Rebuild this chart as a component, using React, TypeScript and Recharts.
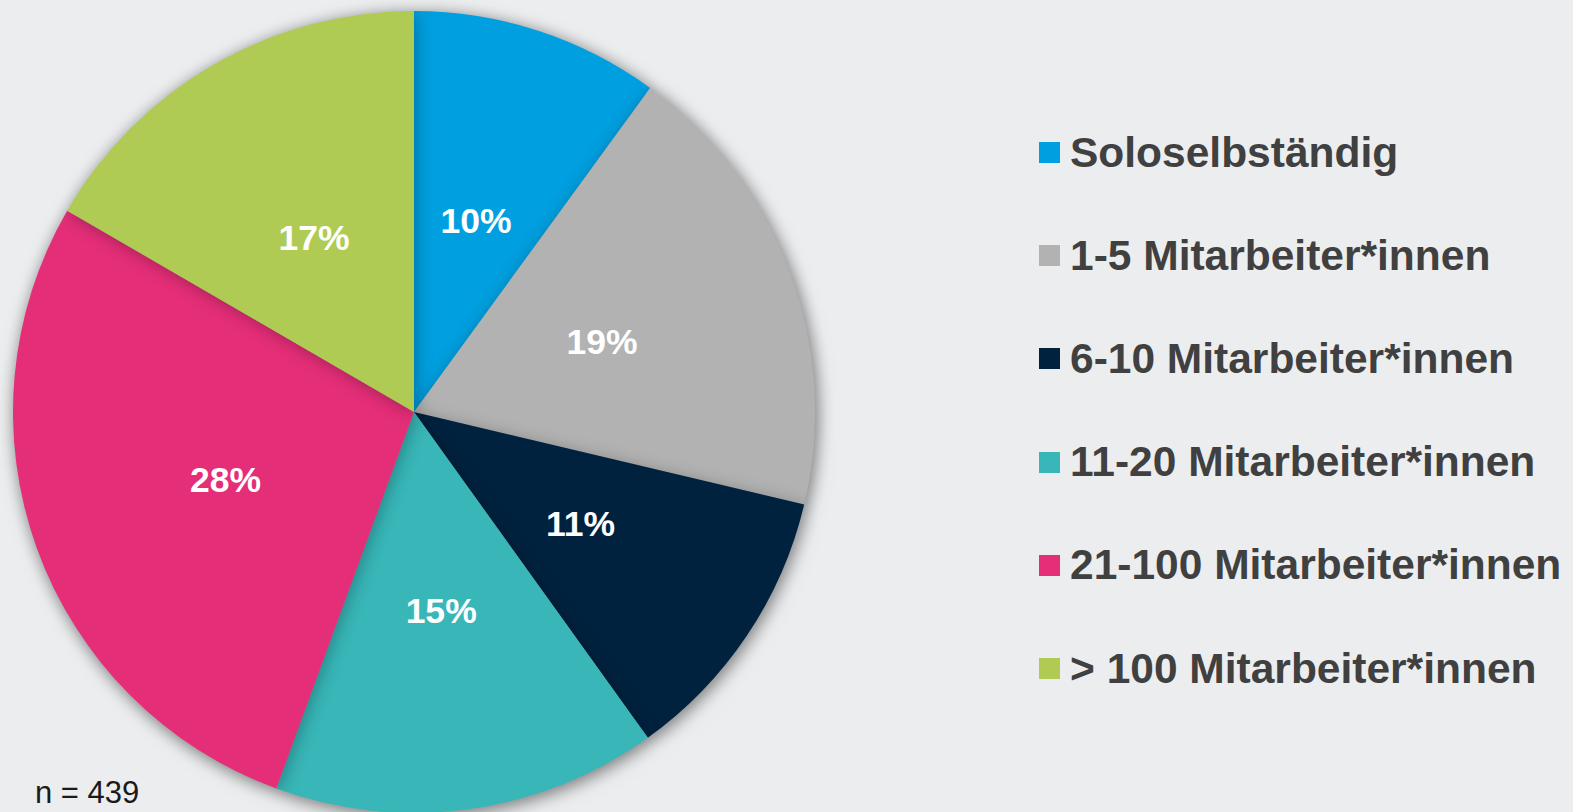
import React from 'react';
import { PieChart, Pie, Cell, Legend } from 'recharts';

// Respondents per company size (n = 439)
const categories = [
  'Soloselbständig',
  '1-5 Mitarbeiter*innen',
  '6-10 Mitarbeiter*innen',
  '11-20 Mitarbeiter*innen',
  '21-100 Mitarbeiter*innen',
  '> 100 Mitarbeiter*innen',
];
const counts = [44, 82, 50, 68, 122, 73];
const colors = ['#009FDF', '#B2B2B2', '#00223F', '#38B6B8', '#E52E78', '#B0CB53'];
const total = 439;

const data = categories.map((name, i) => ({ name, value: counts[i] }));

const RADIAN = Math.PI / 180;

const renderLabel = (props: any) => {
  const { cx, cy, midAngle, outerRadius, value } = props;
  const r = outerRadius * 0.5;
  const x = cx + r * Math.cos(-midAngle * RADIAN);
  const y = cy + r * Math.sin(-midAngle * RADIAN);
  return (
    <text
      x={x}
      y={y}
      fill="#ffffff"
      textAnchor="middle"
      dominantBaseline="central"
      fontFamily="'Liberation Sans', Arial, sans-serif"
      fontWeight="bold"
      fontSize={35.5}
    >
      {Math.round((value / total) * 100)}%
    </text>
  );
};

const renderLegend = () => (
  <div style={{ fontFamily: "'Liberation Sans', Arial, sans-serif" }}>
    {categories.map((name, i) => (
      <div key={name} style={{ height: 103.2, display: 'flex', alignItems: 'center' }}>
        <span
          style={{
            display: 'inline-block',
            width: 21,
            height: 21,
            background: colors[i],
            marginRight: 10,
          }}
        />
        <span style={{ fontSize: 42.5, fontWeight: 'bold', color: '#404040', whiteSpace: 'nowrap' }}>
          {name}
        </span>
      </div>
    ))}
  </div>
);

export default function App() {
  return (
    <div style={{ position: 'relative', width: 1573, height: 812, background: '#ECEDEF', overflow: 'hidden' }}>
      <style>{`
        body { margin: 0; }
        .pie-shadow { filter: drop-shadow(2px 3px 8px rgba(0,0,0,0.28)); }
      `}</style>
      <PieChart width={1573} height={812} margin={{ top: 0, right: 0, bottom: 0, left: 0 }}>
        <Pie
          className="pie-shadow"
          data={data}
          dataKey="value"
          nameKey="name"
          cx={414}
          cy={412}
          outerRadius={401}
          startAngle={90}
          endAngle={-270}
          stroke="none"
          label={renderLabel}
          labelLine={false}
          isAnimationActive={false}
        >
          {data.map((d, i) => (
            <Cell key={d.name} fill={colors[i]} />
          ))}
        </Pie>
        <Legend
          content={renderLegend}
          wrapperStyle={{ position: 'absolute', left: 1039, top: 101, width: 534 }}
        />
      </PieChart>
      <div
        style={{
          position: 'absolute',
          left: 35,
          top: 776,
          fontFamily: "'Liberation Sans', Arial, sans-serif",
          fontSize: 31,
          lineHeight: '34px',
          color: '#1a1a1a',
          whiteSpace: 'nowrap',
        }}
      >
        n = 439
      </div>
    </div>
  );
}
